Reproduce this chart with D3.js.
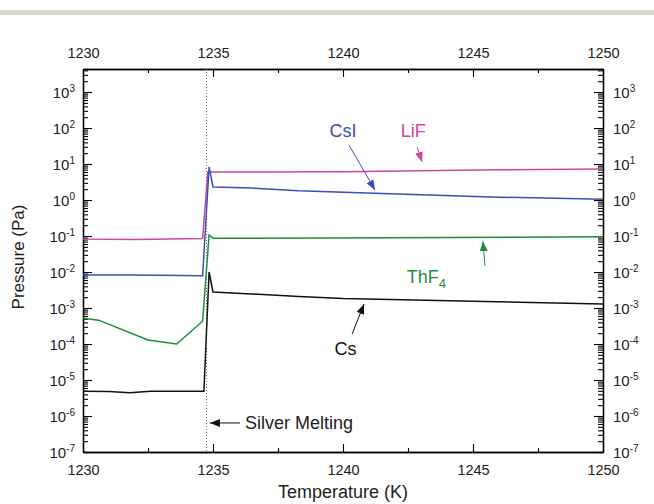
<!DOCTYPE html>
<html>
<head>
<meta charset="utf-8">
<script src="https://cdn.jsdelivr.net/npm/d3@7"></script>
<style>
  body { margin: 0; background: #fff; }
  svg { display: block; font-family: "Liberation Sans", Arial, sans-serif; }
</style>
</head>
<body>
<svg width="654" height="504"></svg>
<script>
// temperature (K) and vapour pressure (Pa)
const lifT = [1230, 1232, 1234.6, 1234.8, 1235.5, 1240, 1243, 1246, 1250]
const lifP = [0.082, 0.08, 0.085, 6.0, 6.0, 6.1, 6.5, 6.9, 7.3]

const csiT = [1230, 1232, 1234.6, 1234.85, 1235, 1236.5, 1238.3, 1241.2, 1246, 1250]
const csiP = [0.0083, 0.0082, 0.0079, 8.3, 2.3, 2.15, 1.8, 1.55, 1.2, 1.05]

const thfT = [1230, 1230.6, 1232.5, 1233.6, 1234.6, 1234.85, 1235, 1239.5, 1246.5, 1250]
const thfP = [5.2e-4, 4.6e-4, 1.3e-4, 1.0e-4, 4.3e-4, 0.107, 0.087, 0.088, 0.093, 0.095]

const csT = [1230, 1231, 1231.8, 1232.6, 1234.65, 1234.85, 1235, 1238.3, 1240, 1245, 1250]
const csP = [4.9e-6, 4.8e-6, 4.4e-6, 4.9e-6, 4.9e-6, 0.01, 2.8e-3, 2.1e-3, 1.85e-3, 1.55e-3, 1.3e-3]

const seriesNames = ['LiF', 'CsI', 'ThF4', 'Cs']
const seriesColors = ['#c8489c', '#3d4db7', '#1f8c3c', '#111111']

const tempTicks = [1230, 1235, 1240, 1245, 1250]
const tempMinor = [1232.5, 1237.5, 1242.5, 1247.5]
const exponents = [-7, -6, -5, -4, -3, -2, -1, 0, 1, 2, 3]
const silverMelt = 1234.75

// label text position, arrow start, arrow end (T, P)
const labelT = [1242.7, 1240.0, 1242.45, 1240.1]
const labelP = [83, 83, 0.0072, 7.2e-5]
const arrowFromT = [1242.85, 1240.23, 1245.46, 1240.35]
const arrowFromP = [29.5, 33.7, 0.0148, 1.9e-4]
const arrowToT = [1243.04, 1241.23, 1245.38, 1240.81]
const arrowToP = [11.4, 1.9, 0.072, 1.29e-3]

function draw() {
  let svg = d3.select('svg')
  let left = 83, right = 603, top = 69, bottom = 452

  svg.append('rect').attr('x', 0).attr('y', 10).attr('width', 654).attr('height', 5)
    .style('fill', '#ddd7ca')

  let x = d3.scaleLinear().domain([1230, 1250]).range([left, right])
  let y = d3.scaleLog().domain([1e-7, Math.pow(10, 3.64)]).range([bottom, top])

  let majorY = exponents.map(e => Math.pow(10, e))
  let minorY = []
  for (let e = -7; e <= 3; e++) {
    for (let k = 2; k <= 9; k++) {
      let v = k * Math.pow(10, e)
      if (v < y.domain()[1]) minorY.push(v)
    }
  }

  // x axes, bottom and top, ticks pointing in
  let xb = svg.append('g').attr('transform', `translate(0,${bottom})`)
    .call(d3.axisBottom(x).tickValues(tempTicks).tickFormat(d3.format('d')).tickSize(-8).tickPadding(10).tickSizeOuter(0))
  svg.append('g').attr('transform', `translate(0,${bottom})`)
    .call(d3.axisBottom(x).tickValues(tempMinor).tickFormat('').tickSize(-4).tickSizeOuter(0))
  let xt = svg.append('g').attr('transform', `translate(0,${top})`)
    .call(d3.axisTop(x).tickValues(tempTicks).tickFormat(d3.format('d')).tickSize(-8).tickPadding(11).tickSizeOuter(0))
  svg.append('g').attr('transform', `translate(0,${top})`)
    .call(d3.axisTop(x).tickValues(tempMinor).tickFormat('').tickSize(-4).tickSizeOuter(0))
  xb.selectAll('text').style('font-size', '14.5px').attr('dy', '0.9em')
  xt.selectAll('text').style('font-size', '14.5px')

  // y axes, left and right
  let yl = svg.append('g').attr('transform', `translate(${left},0)`)
    .call(d3.axisLeft(y).tickValues(majorY).tickFormat('').tickSize(-9).tickPadding(8).tickSizeOuter(0))
  svg.append('g').attr('transform', `translate(${left},0)`)
    .call(d3.axisLeft(y).tickValues(minorY).tickFormat('').tickSize(-5).tickSizeOuter(0))
  let yr = svg.append('g').attr('transform', `translate(${right},0)`)
    .call(d3.axisRight(y).tickValues(majorY).tickFormat('').tickSize(-9).tickPadding(10).tickSizeOuter(0))
  svg.append('g').attr('transform', `translate(${right},0)`)
    .call(d3.axisRight(y).tickValues(minorY).tickFormat('').tickSize(-5).tickSizeOuter(0))

  for (let g of [yl, yr]) {
    g.selectAll('.tick text').each(function(d) {
      let t = d3.select(this).style('font-size', '15px').attr('dy', '0.35em')
      t.append('tspan').text('10')
      t.append('tspan').attr('dy', '-0.55em').style('font-size', '10px').text(Math.round(Math.log10(d)))
    })
  }

  svg.selectAll('.domain').style('stroke', '#000').style('stroke-width', 1.3)
  svg.selectAll('.tick line').style('stroke', '#000').style('stroke-width', 1.1)
  svg.selectAll('.tick text').style('fill', '#222')

  // silver melting point
  svg.append('line')
    .attr('x1', x(silverMelt)).attr('x2', x(silverMelt))
    .attr('y1', top).attr('y2', bottom)
    .style('stroke', '#777').style('stroke-width', 1).style('stroke-dasharray', '1,2')

  let allT = [lifT, csiT, thfT, csT]
  let allP = [lifP, csiP, thfP, csP]
  let line = d3.line().x(d => x(d[0])).y(d => y(d[1]))

  let defs = svg.append('defs')
  seriesColors.forEach(function(c, i) {
    defs.append('marker').attr('id', 'head' + i)
      .attr('markerUnits', 'userSpaceOnUse')
      .attr('viewBox', '0 0 10 8')
      .attr('markerWidth', 10).attr('markerHeight', 8)
      .attr('refX', 10).attr('refY', 4).attr('orient', 'auto')
      .append('path').attr('d', 'M0,0 L10,4 L0,8 z').style('fill', c)
  })

  for (let i = 0; i < allT.length; i++) {
    let pts = allT[i].map((t, j) => [t, allP[i][j]])
    svg.append('path').datum(pts)
      .attr('d', line)
      .style('fill', 'none')
      .style('stroke', seriesColors[i])
      .style('stroke-width', 1.5)

    svg.append('line')
      .attr('x1', x(arrowFromT[i])).attr('y1', y(arrowFromP[i]))
      .attr('x2', x(arrowToT[i])).attr('y2', y(arrowToP[i]))
      .style('stroke', seriesColors[i]).style('stroke-width', 1)
      .attr('marker-end', `url(#head${i})`)

    let lab = svg.append('text')
      .attr('x', x(labelT[i])).attr('y', y(labelP[i]))
      .attr('dy', '0.35em')
      .attr('text-anchor', i == 2 ? 'start' : 'middle')
      .style('font-size', '18px')
      .style('fill', seriesColors[i])
    if (seriesNames[i] == 'ThF4') {
      lab.append('tspan').text('ThF')
      lab.append('tspan').attr('dy', '0.35em').style('font-size', '13px').text('4')
    } else {
      lab.text(seriesNames[i])
    }
  }

  // silver melting note
  svg.append('line')
    .attr('x1', x(1236.04)).attr('x2', x(1234.88))
    .attr('y1', y(6.4e-7)).attr('y2', y(6.4e-7))
    .style('stroke', '#111').style('stroke-width', 1)
    .attr('marker-end', 'url(#head3)')
  svg.append('text')
    .attr('x', x(1236.23)).attr('y', y(6.4e-7)).attr('dy', '0.35em')
    .style('font-size', '18px').style('fill', '#222')
    .text('Silver Melting')

  svg.append('text')
    .attr('x', (left + right) / 2).attr('y', 498)
    .attr('text-anchor', 'middle')
    .style('font-size', '18px').style('fill', '#222')
    .text('Temperature (K)')
  svg.append('text')
    .attr('transform', `translate(24,257) rotate(-90)`)
    .attr('text-anchor', 'middle')
    .style('font-size', '17px').style('fill', '#222')
    .text('Pressure (Pa)')
}

draw()
</script>
</body>
</html>
